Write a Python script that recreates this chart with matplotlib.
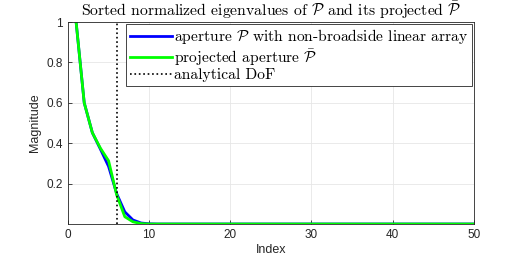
import numpy as np
import matplotlib
matplotlib.use('Agg')
import matplotlib.pyplot as plt

# sorted normalized eigenvalues
index = np.arange(1, 51)
aperture_vals = [1.0, 0.60, 0.452, 0.37, 0.285, 0.15, 0.06, 0.02, 0.005, 0.001] + [0.0] * 40
projected_vals = [1.0, 0.60, 0.452, 0.375, 0.313, 0.144, 0.036, 0.011, 0.002, 0.0] + [0.0] * 40
dof = 6

xticks = [0, 10, 20, 30, 40, 50]
yticks = [0.2, 0.4, 0.6, 0.8, 1]

plt.rcParams['font.family'] = 'Liberation Sans'
plt.rcParams['mathtext.fontset'] = 'cm'

fig = plt.figure(figsize=(5.23, 2.62), dpi=100)
ax = fig.add_axes([0.130, 0.145, 0.776, 0.771])

ax.plot(index, aperture_vals, color='#0000ff', lw=2, label=r'aperture $\mathcal{P}$ with non-broadside linear array')
ax.plot(index, projected_vals, color='#00ff00', lw=2, label=r'projected aperture $\bar{\mathcal{P}}$')
ax.axvline(dof, color='black', ls=':', lw=1.2, label='analytical DoF')

ax.set_xlim(0, 50)
ax.set_ylim(0, 1)
ax.set_xticks(xticks)
ax.set_yticks(yticks)
ax.set_yticklabels(['0.2', '0.4', '0.6', '0.8', '1'])
ax.tick_params(labelsize=8.5, colors='#262626', direction='in', length=3, width=0.6)
ax.grid(True, color='#e6e6e6', lw=0.6)
ax.set_axisbelow(True)
for s in ax.spines.values():
    s.set_color('#262626')
    s.set_linewidth(0.6)

ax.set_xlabel('Index', fontsize=9, color='#262626', labelpad=2)
ax.set_ylabel('Magnitude', fontsize=9, color='#262626', labelpad=4)
ax.set_title(r'Sorted normalized eigenvalues of $\mathcal{P}$ and its projected $\bar{\mathcal{P}}$',
             fontsize=11.3, family='cmr10', pad=4)

leg = ax.legend(loc='upper right', handlelength=2.7, handletextpad=0.15,
                borderpad=0.25, labelspacing=0.05, borderaxespad=0.1, fancybox=False,
                framealpha=1, edgecolor='#262626', prop={'family': 'cmr10', 'size': 11.2})
leg.get_frame().set_linewidth(0.6)

plt.savefig('out.png', dpi=100)
